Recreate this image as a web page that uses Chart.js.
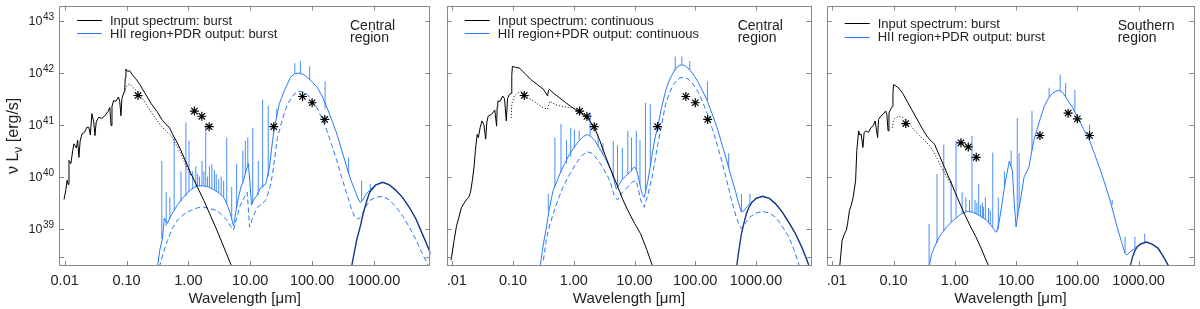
<!DOCTYPE html>
<html>
<head>
<meta charset="utf-8">
<script src="https://cdn.jsdelivr.net/npm/chart.js@4.4.1/dist/chart.umd.min.js"></script>
<style>
  html, body { margin: 0; padding: 0; background: #fff; }
  #wrap { position: relative; width: 1200px; height: 309px; overflow: hidden; }
  canvas { position: absolute; top: 0; }
</style>
</head>
<body>
<div id="wrap">
  <canvas id="panel1" width="436" height="309" style="left:0px"></canvas>
  <canvas id="panel2" width="376" height="309" style="left:441px"></canvas>
  <canvas id="panel3" width="379" height="309" style="left:821px"></canvas>
</div>
<script>
"use strict";

// 1: data
// every point is [log10 wavelength (micron), log10 nuLnu (erg/s)]
// emission lines are [log10 wavelength, log10 base, log10 top]

const xTickValues = [0.01, 0.1, 1, 10, 100, 1000];
const xTickLabels = ['0.01', '0.10', '1.00', '10.00', '100.00', '1000.00'];
const yTickExponents = [39, 40, 41, 42, 43];
const yExtraTicks = [2.9e38];
const regionNames = [['Central', 'region'], ['Central', 'region'], ['Southern', 'region']];
const starTypes = ['burst', 'continuous', 'burst'];

// observed photometry (asterisks)
const obsCentral = [[-0.815, 41.56], [0.097, 41.26], [0.217, 41.16], [0.336, 40.96],
  [1.38, 40.96], [1.845, 41.54], [2.0, 41.42], [2.204, 41.10]];
const obsSouthern = [[-0.80, 41.02], [0.10, 40.65], [0.22, 40.57], [0.35, 40.37],
  [1.39, 40.79], [1.85, 41.22], [2.00, 41.11], [2.20, 40.79]];

// panel 1: central region, burst
const input1 = [[-2.01, 39.56], [-1.98, 39.75], [-1.96, 39.93], [-1.945, 39.85], [-1.93, 40.31], [-1.90, 40.25],
  [-1.87, 40.50], [-1.85, 40.63], [-1.81, 40.55], [-1.79, 40.70], [-1.77, 40.37], [-1.75, 40.68], [-1.72, 40.82],
  [-1.68, 40.85], [-1.64, 40.95], [-1.61, 40.95], [-1.585, 40.80], [-1.56, 41.21], [-1.53, 41.05], [-1.51, 40.79],
  [-1.49, 41.05], [-1.45, 41.14], [-1.40, 41.12], [-1.35, 41.17], [-1.30, 41.25], [-1.27, 41.33], [-1.25, 40.98],
  [-1.235, 41.35], [-1.21, 41.46], [-1.17, 41.45], [-1.13, 41.53], [-1.11, 41.45], [-1.09, 41.17], [-1.075, 41.50],
  [-1.05, 41.59], [-1.03, 41.65], [-1.02, 41.90], [-1.01, 42.07], [-0.98, 42.02], [-0.95, 42.04], [-0.90, 41.95],
  [-0.85, 41.88], [-0.79, 41.78], [-0.70, 41.60], [-0.60, 41.40], [-0.50, 41.24], [-0.42, 41.08], [-0.36, 41.00],
  [-0.31, 40.95], [-0.25, 40.80], [-0.18, 40.65], [-0.12, 40.50], [0.04, 40.06], [0.25, 39.54], [0.46, 38.97],
  [0.69, 38.30]];
const dotted1 = [[-1.03, 41.62], [-1.01, 41.72], [-0.98, 41.76], [-0.95, 41.78], [-0.90, 41.72], [-0.81, 41.62],
  [-0.73, 41.48], [-0.65, 41.33], [-0.55, 41.15], [-0.44, 40.98], [-0.36, 40.87], [-0.28, 40.79], [-0.20, 40.62],
  [-0.12, 40.44], [-0.04, 40.22], [0.04, 40.02]];
const cold1 = [[2.64, 38.28], [2.72, 38.78], [2.78, 39.05], [2.825, 39.29], [2.88, 39.52], [2.93, 39.70],
  [3.03, 39.84], [3.14, 39.89], [3.25, 39.84], [3.35, 39.74], [3.46, 39.60], [3.57, 39.41], [3.68, 39.18],
  [3.78, 38.90], [3.86, 38.68], [3.92, 38.50]];
const hii1 = [[-0.50, 38.26], [-0.46, 38.60], [-0.42, 38.80], [-0.39, 39.20], [-0.34, 39.10], [-0.28, 39.25],
  [-0.18, 39.45], [-0.07, 39.62], [0.04, 39.75], [0.14, 39.82], [0.25, 39.82], [0.33, 39.80], [0.41, 39.75],
  [0.50, 39.68], [0.57, 39.60], [0.63, 39.45], [0.68, 39.28], [0.73, 39.05], [0.77, 39.35], [0.81, 39.60],
  [0.85, 39.80], [0.89, 39.92], [0.93, 40.10], [0.97, 40.25], [1.00, 39.80], [1.02, 39.45], [1.05, 39.55],
  [1.10, 39.62], [1.17, 39.79], [1.25, 39.86], [1.31, 40.18], [1.36, 40.69], [1.39, 40.95], [1.47, 41.40],
  [1.55, 41.65], [1.65, 41.91], [1.72, 41.98], [1.78, 41.99], [1.85, 41.97], [1.92, 41.91], [2.00, 41.82],
  [2.08, 41.72], [2.16, 41.55], [2.24, 41.33], [2.32, 41.08], [2.40, 40.82], [2.48, 40.50], [2.56, 40.18],
  [2.63, 39.92], [2.69, 39.74], [2.74, 39.58], [2.78, 39.50], [2.82, 39.55], [2.87, 39.66], [2.93, 39.74],
  [3.03, 39.84], [3.14, 39.89], [3.25, 39.84], [3.35, 39.74], [3.46, 39.60], [3.57, 39.41], [3.68, 39.18],
  [3.78, 38.90], [3.86, 38.68], [3.92, 38.50]];
const hiiDash1 = [[-0.47, 38.26], [-0.40, 38.55], [-0.34, 38.77], [-0.26, 39.00], [-0.18, 39.16], [-0.07, 39.28],
  [0.04, 39.35], [0.15, 39.40], [0.25, 39.41], [0.36, 39.38], [0.46, 39.35], [0.55, 39.25], [0.62, 39.16],
  [0.68, 39.05], [0.73, 38.97], [0.78, 39.20], [0.84, 39.45], [0.90, 39.60], [0.95, 39.70], [0.99, 39.03],
  [1.05, 39.25], [1.12, 39.41], [1.25, 39.54], [1.32, 39.80], [1.36, 40.05], [1.44, 40.75], [1.52, 41.10],
  [1.60, 41.39], [1.71, 41.59], [1.78, 41.64], [1.85, 41.63], [1.92, 41.58], [2.00, 41.47], [2.08, 41.32],
  [2.16, 41.12], [2.24, 40.88], [2.32, 40.60], [2.40, 40.30], [2.48, 39.98], [2.56, 39.67], [2.63, 39.40],
  [2.69, 39.22], [2.75, 39.18], [2.80, 39.25], [2.87, 39.42], [2.93, 39.54], [3.03, 39.60], [3.14, 39.62],
  [3.25, 39.55], [3.36, 39.41], [3.47, 39.23], [3.57, 39.03], [3.68, 38.78], [3.78, 38.52], [3.89, 38.26]];
const lines1 = [[-0.43, 38.80, 40.30], [-0.36, 39.05, 39.70], [-0.30, 39.20, 39.60], [-0.23, 39.35, 40.75],
  [-0.12, 39.52, 40.10], [-0.04, 39.62, 41.04], [0.01, 39.70, 40.69], [0.07, 39.76, 40.10], [0.12, 39.80, 40.20],
  [0.15, 39.82, 40.05], [0.18, 39.82, 40.00], [0.22, 39.82, 40.30], [0.25, 39.82, 40.10], [0.28, 39.82, 41.01],
  [0.31, 39.81, 40.00], [0.34, 39.80, 40.20], [0.38, 39.78, 40.24], [0.42, 39.74, 40.12], [0.45, 39.72, 40.05],
  [0.49, 39.69, 39.95], [0.53, 39.65, 40.00], [0.57, 39.60, 39.92], [0.62, 39.48, 40.75], [0.70, 39.18, 39.80],
  [0.78, 39.40, 40.24], [0.88, 39.90, 40.50], [0.92, 40.05, 40.69], [0.96, 40.20, 40.75], [1.04, 39.50, 40.94],
  [1.13, 39.65, 40.30], [1.20, 39.78, 41.48], [1.29, 40.00, 41.36], [1.43, 41.15, 41.30], [1.72, 41.98, 42.18],
  [1.81, 41.98, 42.22], [1.96, 41.87, 42.12], [2.21, 41.30, 41.83], [2.59, 40.05, 40.37], [2.80, 39.52, 39.92],
  [2.94, 39.75, 39.86]];

// panel 2: central region, continuous
const input2 = [[-2.02, 38.39], [-1.97, 38.77], [-1.93, 39.05], [-1.89, 39.22], [-1.85, 39.40], [-1.81, 39.48],
  [-1.77, 39.55], [-1.73, 39.60], [-1.70, 39.70], [-1.67, 39.92], [-1.64, 40.20], [-1.62, 40.50], [-1.59, 40.81],
  [-1.57, 40.75], [-1.54, 40.95], [-1.51, 41.07], [-1.48, 41.00], [-1.45, 40.72], [-1.43, 41.05], [-1.41, 41.16],
  [-1.35, 41.20], [-1.30, 41.28], [-1.27, 40.97], [-1.26, 41.35], [-1.25, 41.45], [-1.21, 41.45], [-1.17, 41.55],
  [-1.14, 41.50], [-1.11, 41.07], [-1.09, 41.50], [-1.06, 41.58], [-1.03, 41.60], [-1.02, 41.95], [-1.01, 42.12],
  [-0.96, 42.10], [-0.90, 42.09], [-0.80, 41.98], [-0.71, 41.87], [-0.60, 41.77], [-0.50, 41.68], [-0.43, 41.55],
  [-0.415, 41.66], [-0.40, 41.68], [-0.34, 41.61], [-0.24, 41.52], [-0.13, 41.42], [-0.05, 41.35], [0.03, 41.29],
  [0.12, 41.22], [0.19, 41.16], [0.26, 41.07], [0.33, 40.97], [0.42, 40.72], [0.51, 40.43], [0.62, 40.10],
  [0.73, 39.79], [0.81, 39.55], [0.89, 39.35], [1.00, 39.10], [1.10, 38.90], [1.20, 38.60], [1.29, 38.30]];
const dotted2 = [[-1.03, 41.13], [-1.02, 41.40], [-0.98, 41.55], [-0.93, 41.60], [-0.87, 41.64], [-0.79, 41.55],
  [-0.66, 41.45], [-0.50, 41.32], [-0.43, 41.30], [-0.41, 41.40], [-0.39, 41.45], [-0.30, 41.38], [-0.23, 41.36],
  [-0.10, 41.33], [-0.02, 41.32], [0.09, 41.26], [0.19, 41.16]];
const cold2 = [[2.68, 38.26], [2.72, 38.60], [2.76, 38.90], [2.80, 39.10], [2.84, 39.28], [2.88, 39.40],
  [2.93, 39.50], [3.00, 39.58], [3.11, 39.62], [3.22, 39.58], [3.32, 39.48], [3.43, 39.32], [3.54, 39.12],
  [3.65, 38.90], [3.75, 38.65], [3.82, 38.45], [3.88, 38.26]];
const hii2 = [[-0.55, 38.30], [-0.50, 38.70], [-0.45, 39.03], [-0.40, 39.40], [-0.34, 39.73], [-0.28, 39.90],
  [-0.23, 40.05], [-0.15, 40.25], [-0.07, 40.43], [0.01, 40.57], [0.09, 40.69], [0.16, 40.77], [0.22, 40.81],
  [0.28, 40.77], [0.35, 40.69], [0.43, 40.53], [0.51, 40.37], [0.57, 40.22], [0.62, 40.11], [0.66, 39.95],
  [0.70, 39.76], [0.75, 39.85], [0.80, 39.95], [0.85, 40.00], [0.89, 40.05], [0.94, 40.10], [0.99, 40.18],
  [1.03, 40.15], [1.07, 39.95], [1.10, 39.79], [1.13, 39.65], [1.16, 39.60], [1.19, 39.75], [1.22, 39.92],
  [1.26, 40.20], [1.30, 40.50], [1.34, 40.75], [1.38, 40.95], [1.44, 41.30], [1.51, 41.64], [1.56, 41.82],
  [1.62, 41.96], [1.68, 42.08], [1.75, 42.15], [1.82, 42.14], [1.88, 42.09], [1.96, 41.98], [2.04, 41.83],
  [2.12, 41.65], [2.20, 41.45], [2.28, 41.20], [2.36, 40.94], [2.44, 40.62], [2.52, 40.30], [2.59, 40.00],
  [2.66, 39.73], [2.71, 39.50], [2.76, 39.32], [2.80, 39.34], [2.85, 39.42], [2.90, 39.48], [3.00, 39.58],
  [3.11, 39.62], [3.22, 39.58], [3.32, 39.48], [3.43, 39.32], [3.54, 39.12], [3.65, 38.90], [3.75, 38.65],
  [3.82, 38.45], [3.88, 38.26]];
const hiiDash2 = [[-0.50, 38.39], [-0.45, 38.80], [-0.40, 39.05], [-0.34, 39.28], [-0.26, 39.55], [-0.18, 39.79],
  [-0.08, 40.02], [0.03, 40.24], [0.13, 40.40], [0.22, 40.48], [0.30, 40.45], [0.41, 40.30], [0.49, 40.15],
  [0.57, 39.98], [0.62, 39.82], [0.67, 39.62], [0.72, 39.55], [0.80, 39.70], [0.89, 39.80], [0.97, 39.90],
  [1.03, 39.92], [1.07, 39.72], [1.10, 39.55], [1.16, 39.41], [1.22, 39.65], [1.30, 40.05], [1.38, 40.60],
  [1.44, 40.95], [1.51, 41.39], [1.58, 41.62], [1.64, 41.77], [1.70, 41.86], [1.75, 41.90], [1.82, 41.91],
  [1.88, 41.88], [1.96, 41.78], [2.04, 41.64], [2.12, 41.44], [2.20, 41.20], [2.28, 40.92], [2.36, 40.62],
  [2.44, 40.28], [2.52, 39.92], [2.59, 39.58], [2.66, 39.28], [2.71, 39.10], [2.76, 39.00], [2.82, 39.10],
  [2.90, 39.22], [3.00, 39.30], [3.11, 39.33], [3.22, 39.30], [3.32, 39.22], [3.43, 39.05], [3.54, 38.84],
  [3.63, 38.58], [3.72, 38.26]];
const lines2 = [[-0.42, 39.35, 39.67], [-0.31, 39.80, 40.75], [-0.21, 40.08, 41.01], [-0.12, 40.25, 40.70],
  [-0.05, 40.38, 40.94], [0.01, 40.55, 40.90], [0.09, 40.69, 40.88], [0.27, 40.79, 41.23], [0.40, 40.58, 40.80],
  [0.48, 40.42, 40.65], [0.65, 40.00, 40.69], [0.72, 39.80, 40.60], [0.80, 39.95, 40.55], [0.89, 40.05, 40.88],
  [0.95, 40.10, 40.75], [1.03, 40.15, 40.88], [1.09, 39.85, 40.70], [1.18, 39.70, 41.42], [1.26, 40.20, 41.39],
  [1.67, 42.05, 42.31], [1.78, 42.15, 42.31], [1.91, 42.05, 42.22], [2.20, 41.45, 41.83], [2.55, 40.15, 40.45],
  [2.76, 39.32, 39.67], [2.90, 39.48, 39.67]];

// panel 3: southern region, burst
const input3 = [[-1.88, 38.26], [-1.84, 38.77], [-1.80, 38.90], [-1.77, 38.97], [-1.75, 39.10], [-1.72, 39.35],
  [-1.69, 39.45], [-1.66, 39.60], [-1.62, 39.92], [-1.60, 40.50], [-1.57, 40.88], [-1.55, 40.80], [-1.53, 40.82],
  [-1.50, 40.56], [-1.48, 40.85], [-1.45, 40.88], [-1.41, 40.85], [-1.37, 40.94], [-1.33, 40.98], [-1.30, 41.07],
  [-1.26, 40.75], [-1.245, 41.10], [-1.21, 41.16], [-1.17, 41.20], [-1.13, 41.26], [-1.11, 41.20], [-1.09, 40.88],
  [-1.075, 41.22], [-1.05, 41.29], [-1.02, 41.35], [-1.01, 41.60], [-1.00, 41.77], [-0.96, 41.74], [-0.92, 41.71],
  [-0.85, 41.60], [-0.78, 41.45], [-0.70, 41.28], [-0.60, 41.07], [-0.52, 40.90], [-0.44, 40.75], [-0.38, 40.68],
  [-0.33, 40.62], [-0.25, 40.40], [-0.17, 40.18], [-0.06, 39.88], [0.04, 39.60], [0.15, 39.30], [0.26, 39.03],
  [0.34, 38.85], [0.42, 38.65], [0.49, 38.45], [0.56, 38.26]];
const dotted3 = [[-1.02, 40.94], [-1.01, 41.05], [-0.98, 41.12], [-0.92, 41.16], [-0.86, 41.14], [-0.81, 41.10],
  [-0.73, 41.00], [-0.65, 40.88], [-0.57, 40.78], [-0.49, 40.69], [-0.42, 40.60], [-0.36, 40.50], [-0.29, 40.35],
  [-0.22, 40.18], [-0.14, 40.02], [-0.06, 39.85]];
const cold3 = [[2.86, 38.26], [2.90, 38.45], [2.94, 38.57], [2.98, 38.65], [3.03, 38.70], [3.13, 38.74],
  [3.22, 38.70], [3.32, 38.62], [3.41, 38.45], [3.50, 38.26]];
const hii3 = [[-0.42, 38.26], [-0.38, 38.50], [-0.33, 38.65], [-0.28, 38.78], [-0.22, 38.90], [-0.14, 39.02],
  [-0.06, 39.12], [0.02, 39.20], [0.10, 39.28], [0.20, 39.33], [0.28, 39.32], [0.36, 39.28], [0.44, 39.22],
  [0.52, 39.16], [0.60, 39.05], [0.66, 38.95], [0.68, 38.93], [0.72, 39.10], [0.76, 39.40], [0.81, 39.79],
  [0.85, 40.05], [0.89, 40.30], [0.94, 40.11], [0.97, 39.50], [1.00, 39.03], [1.04, 39.35], [1.08, 39.60],
  [1.13, 39.99], [1.21, 40.18], [1.25, 40.45], [1.29, 40.69], [1.34, 40.90], [1.40, 41.13], [1.46, 41.35],
  [1.53, 41.51], [1.60, 41.61], [1.69, 41.66], [1.76, 41.62], [1.82, 41.51], [1.91, 41.35], [2.01, 41.13],
  [2.10, 40.92], [2.20, 40.69], [2.28, 40.44], [2.36, 40.18], [2.44, 39.90], [2.52, 39.60], [2.59, 39.30],
  [2.65, 39.03], [2.72, 38.75], [2.78, 38.52], [2.81, 38.49], [2.86, 38.55], [2.94, 38.62], [3.03, 38.70],
  [3.13, 38.74], [3.22, 38.70], [3.32, 38.62], [3.41, 38.45], [3.50, 38.26]];
const lines3 = [[-0.42, 38.26, 39.09], [-0.29, 38.72, 40.05], [-0.18, 38.95, 40.62], [-0.06, 39.12, 39.92],
  [0.02, 39.20, 40.69], [0.12, 39.29, 39.70], [0.18, 39.32, 39.60], [0.24, 39.33, 39.55], [0.28, 39.32, 40.78],
  [0.33, 39.30, 39.55], [0.36, 39.28, 39.50], [0.39, 39.26, 39.86], [0.42, 39.24, 39.45], [0.45, 39.22, 39.50],
  [0.47, 39.20, 39.42], [0.50, 39.18, 39.60], [0.55, 39.12, 39.40], [0.58, 39.08, 39.35], [0.62, 39.03, 40.46],
  [0.71, 38.98, 39.60], [0.81, 39.79, 40.10], [0.92, 40.20, 40.50], [1.02, 39.20, 41.13], [1.05, 39.40, 40.45],
  [1.26, 40.50, 41.26], [1.54, 41.53, 41.71], [1.72, 41.65, 41.96], [1.81, 41.53, 41.80], [1.96, 41.24, 41.67],
  [2.20, 40.69, 41.00], [2.57, 39.45, 39.55], [2.78, 38.52, 38.84], [2.94, 38.62, 38.84], [3.10, 38.73, 38.90]];

// 2: helpers to turn the log pairs into chart points
const BLUE = '#2679ff';
const FONT = '"Liberation Sans", Arial, sans-serif';

function toPoints(arr) {
  return arr.map(p => ({ x: Math.pow(10, p[0]), y: Math.pow(10, p[1]) }));
}

function linePoints(arr) {
  let pts = [];
  for (const l of arr) {
    const x = Math.pow(10, l[0]);
    pts.push({ x: x, y: Math.pow(10, l[1]) });
    pts.push({ x: x, y: Math.pow(10, l[2]) });
    pts.push({ x: x, y: null });
  }
  return pts;
}

// frame, inward ticks, labels, legend - drawn after the datasets
const decor = {
  id: 'decor',
  afterDraw(chart, args, opts) {
    const ctx = chart.ctx;
    const a = chart.chartArea;
    const xs = chart.scales.x;
    const ys = chart.scales.y;
    ctx.save();
    ctx.strokeStyle = '#8a8a8a';
    ctx.lineWidth = 1;
    ctx.strokeRect(Math.round(a.left) + 0.5, Math.round(a.top) + 0.5,
      Math.round(a.right - a.left) - 1, Math.round(a.bottom - a.top) - 1);
    ctx.beginPath();
    for (const v of xTickValues) {
      const px = Math.round(xs.getPixelForValue(v)) + 0.5;
      ctx.moveTo(px, a.bottom); ctx.lineTo(px, a.bottom - 5);
      ctx.moveTo(px, a.top); ctx.lineTo(px, a.top + 5);
    }
    const yVals = yTickExponents.map(e => Math.pow(10, e)).concat(yExtraTicks);
    for (const v of yVals) {
      const py = Math.round(ys.getPixelForValue(v)) + 0.5;
      ctx.moveTo(a.left, py); ctx.lineTo(a.left + 5, py);
      ctx.moveTo(a.right, py); ctx.lineTo(a.right - 5, py);
    }
    ctx.stroke();

    // x tick labels and title; later panels lose the leading zero of 0.01
    ctx.fillStyle = '#222';
    ctx.textAlign = 'center';
    ctx.textBaseline = 'alphabetic';
    ctx.font = '14.5px ' + FONT;
    xTickValues.forEach((v, i) => {
      let label = xTickLabels[i];
      let px = xs.getPixelForValue(v);
      if (i === 0 && opts.shortFirst) {
        label = label.slice(1);
        px += 4.5;
      }
      ctx.fillText(label, px, 285);
    });
    ctx.font = '15px ' + FONT;
    ctx.fillText('Wavelength [\u03bcm]', (a.left + a.right) / 2, 302.5);

    // y tick labels and title (first panel only)
    if (opts.yLabels) {
      for (const e of yTickExponents) {
        const py = ys.getPixelForValue(Math.pow(10, e));
        ctx.textAlign = 'right';
        ctx.font = '10px ' + FONT;
        const sup = String(e);
        const supW = ctx.measureText(sup).width;
        ctx.fillText(sup, 54, py - 0.5);
        ctx.font = '12.5px ' + FONT;
        ctx.fillText('10', 54 - supW - 0.5, py + 4.5);
      }
      ctx.save();
      ctx.translate(13, (a.top + a.bottom) / 2);
      ctx.rotate(-Math.PI / 2);
      const parts = [['\u03bd L', '16px ' + FONT, 0], ['\u03bd', '12px ' + FONT, 4], [' [erg/s]', '16px ' + FONT, 0]];
      let total = 0;
      for (const p of parts) { ctx.font = p[1]; total += ctx.measureText(p[0]).width; }
      let x0 = -total / 2;
      ctx.textAlign = 'left';
      for (const p of parts) {
        ctx.font = p[1];
        ctx.fillText(p[0], x0, 5 + p[2]);
        x0 += ctx.measureText(p[0]).width;
      }
      ctx.restore();
    }

    // legend
    ctx.textAlign = 'left';
    ctx.font = '13px ' + FONT;
    const rows = [['#000', 'Input spectrum: ' + opts.kind], [BLUE, 'HII region+PDR output: ' + opts.kind]];
    rows.forEach((r, i) => {
      const y = opts.legendY + i * 13.3;
      ctx.strokeStyle = r[0];
      ctx.beginPath();
      ctx.moveTo(a.left + 18, Math.round(y) + 0.5);
      ctx.lineTo(a.left + 43, Math.round(y) + 0.5);
      ctx.stroke();
      ctx.fillText(r[1], a.left + 51, y + 4.5);
    });

    // region name
    ctx.font = '14px ' + FONT;
    ctx.fillText(opts.region[0], a.left + 291, 29.5);
    ctx.fillText(opts.region[1], a.left + 291, 42);
    ctx.restore();
  }
};

// 3: create the three panels
function makePanel(canvasId, d, opts) {
  let datasets = [
    { data: toPoints(d.obs), showLine: false, pointStyle: 'star', pointRadius: 4.5,
      pointBorderColor: '#000', pointBorderWidth: 1.2, order: 0 },
    { data: toPoints(d.input), borderColor: '#000', borderWidth: 1, order: 1 },
    { data: toPoints(d.dotted), borderColor: '#000', borderWidth: 1, borderDash: [1, 2], order: 2 },
    { data: toPoints(d.cold), borderColor: '#1b3a86', borderWidth: 1.4, order: 2 },
    { data: toPoints(d.hii), borderColor: BLUE, borderWidth: 1, order: 3 },
    { data: linePoints(d.lines), borderColor: 'rgba(38,121,255,0.85)', borderWidth: 1, spanGaps: false, order: 4 }
  ];
  if (d.hiiDash) {
    datasets.push({ data: toPoints(d.hiiDash), borderColor: BLUE, borderWidth: 1, borderDash: [5, 3], order: 5 });
  }
  return new Chart(document.getElementById(canvasId), {
    type: 'line',
    data: { datasets: datasets },
    options: {
      responsive: false,
      animation: false,
      layout: { padding: { top: 4, right: opts.rightPad, left: 0, bottom: 0 } },
      elements: { point: { radius: 0 }, line: { tension: 0, fill: false } },
      plugins: {
        legend: { display: false },
        tooltip: { enabled: false },
        decor: { yLabels: opts.yLabels, kind: opts.kind, region: opts.region, legendY: opts.legendY,
          shortFirst: !opts.yLabels }
      },
      scales: {
        x: {
          type: 'logarithmic', min: 0.0081, max: 8130,
          grid: { display: false }, border: { display: false }, ticks: { display: false },
          afterFit(s) { s.height = 43; }
        },
        y: {
          type: 'logarithmic', min: 1.905e38, max: 1.936e43,
          grid: { display: false }, border: { display: false }, ticks: { display: false },
          afterFit(s) { s.width = opts.leftWidth; }
        }
      }
    },
    plugins: [decor]
  });
}

makePanel('panel1',
  { obs: obsCentral, input: input1, dotted: dotted1, cold: cold1, hii: hii1, hiiDash: hiiDash1, lines: lines1 },
  { yLabels: true, kind: starTypes[0], region: regionNames[0], legendY: 20, leftWidth: 59, rightPad: 1 });
makePanel('panel2',
  { obs: obsCentral, input: input2, dotted: dotted2, cold: cold2, hii: hii2, hiiDash: hiiDash2, lines: lines2 },
  { yLabels: false, kind: starTypes[1], region: regionNames[1], legendY: 20, leftWidth: 1, rightPad: 1 });
makePanel('panel3',
  { obs: obsSouthern, input: input3, dotted: dotted3, cold: cold3, hii: hii3, lines: lines3 },
  { yLabels: false, kind: starTypes[2], region: regionNames[2], legendY: 23.3, leftWidth: 1, rightPad: 0 });
</script>
</body>
</html>
